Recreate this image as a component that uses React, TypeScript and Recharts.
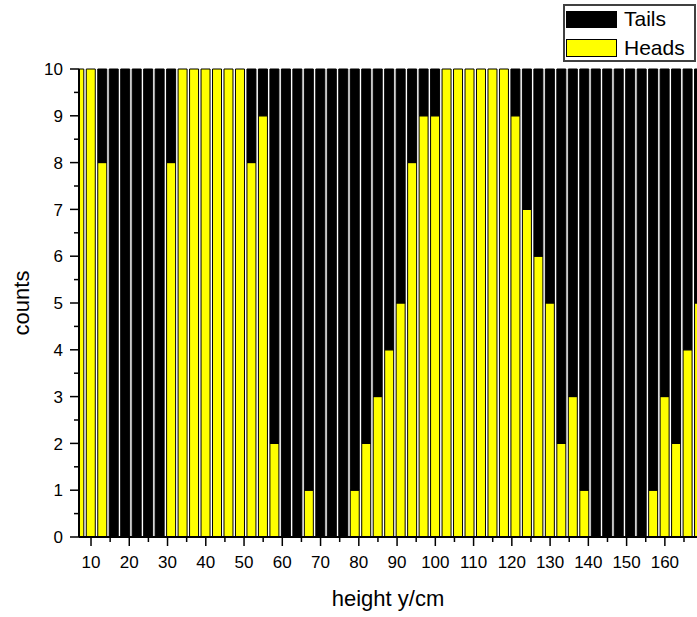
import React from 'react';
import { BarChart, Bar, XAxis, YAxis, Legend, Label } from 'recharts';

const heightBins = [7, 10, 13, 16, 19, 22, 25, 28, 31, 34, 37, 40, 43, 46, 49, 52, 55, 58, 61, 64, 67, 70, 73, 76, 79, 82, 85, 88, 91, 94, 97, 100, 103, 106, 109, 112, 115, 118, 121, 124, 127, 130, 133, 136, 139, 142, 145, 148, 151, 154, 157, 160, 163, 166, 169];
const headsCounts = [10, 10, 8, 0, 0, 0, 0, 0, 8, 10, 10, 10, 10, 10, 10, 8, 9, 2, 0, 0, 1, 0, 0, 0, 1, 2, 3, 4, 5, 8, 9, 9, 10, 10, 10, 10, 10, 10, 9, 7, 6, 5, 2, 3, 1, 0, 0, 0, 0, 0, 1, 3, 2, 4, 5];
const tailsCounts = [0, 0, 2, 10, 10, 10, 10, 10, 2, 0, 0, 0, 0, 0, 0, 2, 1, 8, 10, 10, 9, 10, 10, 10, 9, 8, 7, 6, 5, 2, 1, 1, 0, 0, 0, 0, 0, 0, 1, 3, 4, 5, 8, 7, 9, 10, 10, 10, 10, 10, 9, 7, 8, 6, 5];
const xTicks = [10, 15, 20, 25, 30, 35, 40, 45, 50, 55, 60, 65, 70, 75, 80, 85, 90, 95, 100, 105, 110, 115, 120, 125, 130, 135, 140, 145, 150, 155, 160, 165];
const yTicks = [0, 0.5, 1, 1.5, 2, 2.5, 3, 3.5, 4, 4.5, 5, 5.5, 6, 6.5, 7, 7.5, 8, 8.5, 9, 9.5, 10];

const data = heightBins.map((h, i) => ({ h, Heads: headsCounts[i], Tails: tailsCounts[i] }));

const FONT = '"Liberation Sans", Arial, sans-serif';

const XTick = (props: any) => {
  const { x, y, payload } = props;
  const v = payload.value;
  const major = v % 10 === 0;
  return (
    <g>
      <line x1={x} x2={x} y1={y} y2={y + (major ? 9 : 5)} stroke="#000" strokeWidth={1.5} />
      {major && (
        <text x={x} y={y + 31} textAnchor="middle" fontSize={17} fontFamily={FONT} fill="#000">
          {v}
        </text>
      )}
    </g>
  );
};

const YTick = (props: any) => {
  const { x, y, payload } = props;
  const v = payload.value;
  const major = Number.isInteger(v);
  return (
    <g>
      <line x1={x} x2={x - (major ? 9 : 5)} y1={y} y2={y} stroke="#000" strokeWidth={1.5} />
      {major && (
        <text x={x - 16} y={y} dy="0.36em" textAnchor="end" fontSize={17} fontFamily={FONT} fill="#000">
          {v}
        </text>
      )}
    </g>
  );
};

const LegendBox = () => (
  <div
    style={{
      position: 'relative',
      width: 133,
      height: 58,
      boxSizing: 'border-box',
      border: '2px solid #404040',
      background: '#fff',
      fontFamily: FONT,
      fontSize: 21,
      color: '#000',
    }}
  >
    <div style={{ position: 'absolute', left: 1, top: 5, width: 51, height: 17, boxSizing: 'border-box', background: '#000', border: '1px solid #000' }} />
    <div style={{ position: 'absolute', left: 59, top: 1, height: 24, lineHeight: '24px' }}>Tails</div>
    <div style={{ position: 'absolute', left: 1, top: 33, width: 51, height: 18, boxSizing: 'border-box', background: '#ffff00', border: '1px solid #000' }} />
    <div style={{ position: 'absolute', left: 59, top: 30, height: 24, lineHeight: '24px' }}>Heads</div>
  </div>
);

export default function App() {
  return (
    <div style={{ position: 'absolute', left: 0, top: 0, width: 697, height: 617, background: '#fff' }}>
      <BarChart
        width={697}
        height={617}
        data={data}
        margin={{ top: 69, right: 0, left: 19, bottom: 50 }}
        barSize={9}
      >
        <XAxis
          dataKey="h"
          type="number"
          domain={[6.86, 168.4]}
          allowDataOverflow
          ticks={xTicks}
          interval={0}
          tick={<XTick />}
          tickLine={false}
          tickSize={0}
          tickMargin={0}
          height={30}
          axisLine={{ stroke: '#000', strokeWidth: 2 }}
        >
          <Label value="height y/cm" position="bottom" offset={23} fontSize={22} fontFamily={FONT} fill="#000" />
        </XAxis>
        <YAxis
          type="number"
          domain={[0, 10]}
          ticks={yTicks}
          interval={0}
          tick={<YTick />}
          tickLine={false}
          tickSize={0}
          tickMargin={0}
          width={60}
          axisLine={{ stroke: '#000', strokeWidth: 2 }}
        >
          <Label value="counts" angle={-90} position="insideLeft" offset={2} fontSize={22} fontFamily={FONT} fill="#000" style={{ textAnchor: 'middle' }} />
        </YAxis>
        <Legend
          layout="vertical"
          align="center"
          verticalAlign="middle"
          content={<LegendBox />}
          wrapperStyle={{ left: 563, top: 4, width: 133, height: 58 }}
        />
        <Bar dataKey="Heads" stackId="a" fill="#ffff00" stroke="#000" strokeWidth={1} isAnimationActive={false} />
        <Bar dataKey="Tails" stackId="a" fill="#000" stroke="#000" strokeWidth={1} isAnimationActive={false} />
      </BarChart>
    </div>
  );
}
